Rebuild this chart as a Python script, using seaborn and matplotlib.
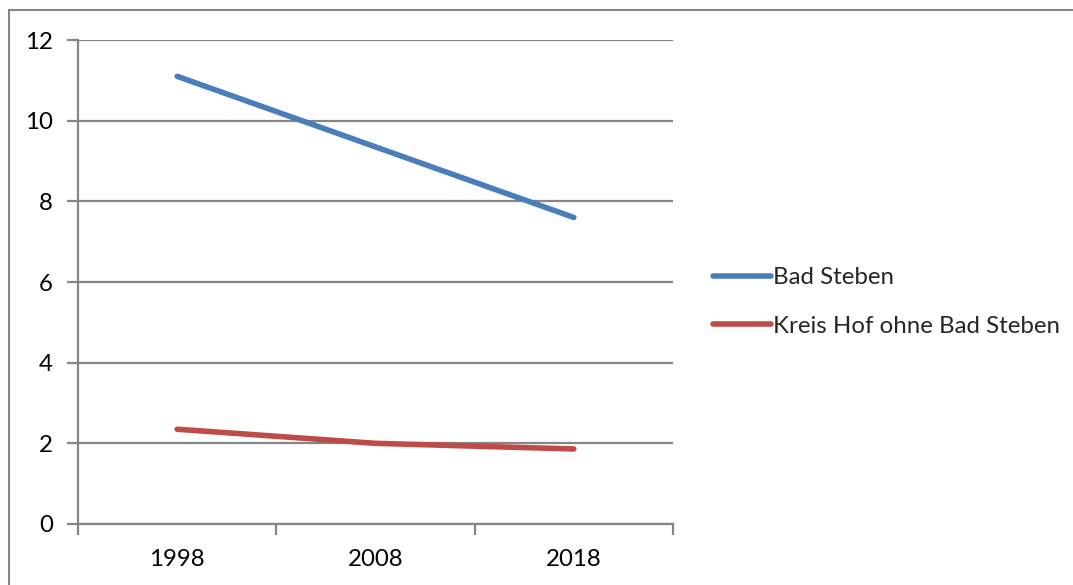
import matplotlib
matplotlib.use("Agg")
import matplotlib.pyplot as plt
import matplotlib.patches as mpatches
import seaborn as sns
import pandas as pd

years = ["1998", "2008", "2018"]
bad_steben = [11.1, 9.35, 7.6]
kreis_hof = [2.35, 2.0, 1.86]
series_names = ["Bad Steben", "Kreis Hof ohne Bad Steben"]
y_ticks = [0, 2, 4, 6, 8, 10, 12]

df = pd.DataFrame({
    "Jahr": years * 2,
    "Wert": bad_steben + kreis_hof,
    "Reihe": [series_names[0]] * len(years) + [series_names[1]] * len(years),
})
df["pos"] = df["Jahr"].map({y: i for i, y in enumerate(years)})

sns.set_theme(style="white")
plt.rcParams["font.family"] = ["Lato", "DejaVu Sans"]

fig = plt.figure(figsize=(10.73, 5.85), dpi=100)
W, H = 1073, 585
ax = fig.add_axes([78 / W, 1 - 524 / H, (673 - 78) / W, (524 - 40) / H])

grid_col = "#868686"
palette = {series_names[0]: "#4a7ebb", series_names[1]: "#be4b48"}
fs = 17.3

sns.lineplot(data=df, x="pos", y="Wert", hue="Reihe", palette=palette,
             linewidth=4, ax=ax, legend=False, solid_capstyle="round")

ax.set_xlim(-0.5, 2.5)
ax.set_ylim(0, 12)
ax.set_yticks(y_ticks)
ax.set_yticklabels([str(v) for v in y_ticks])
ax.set_xticks(range(len(years)))
ax.set_xticklabels(years)
ax.set_xticks([-0.5, 0.5, 1.5, 2.5], minor=True)
ax.set_xlabel("")
ax.set_ylabel("")

ax.yaxis.grid(True, color=grid_col, linewidth=1.6)
ax.set_axisbelow(True)
for s in ["top", "right"]:
    ax.spines[s].set_visible(False)
for s in ["left", "bottom"]:
    ax.spines[s].set_color(grid_col)
    ax.spines[s].set_linewidth(1.6)

ax.tick_params(axis="y", which="major", left=True, length=8, width=1.6,
               color=grid_col, labelsize=fs, pad=10, labelcolor="black")
ax.tick_params(axis="x", which="major", bottom=False, labelsize=fs, pad=12,
               labelcolor="black")
ax.tick_params(axis="x", which="minor", bottom=True, length=8, width=1.6,
               color=grid_col)

handles = [plt.Line2D([], [], color=palette[n], linewidth=4,
                      solid_capstyle="round") for n in series_names]
fig.legend(handles, series_names, loc="center left",
           bbox_to_anchor=(713 / W, 1 - 302 / H), frameon=False,
           fontsize=fs, handlelength=2.4, handletextpad=0.1,
           labelspacing=1.15, borderaxespad=0, borderpad=0)

fig.patches.append(mpatches.Rectangle((9 / W, -0.05), 1.2, 1 - 10 / H + 0.05,
                                      transform=fig.transFigure, fill=False,
                                      edgecolor=grid_col, linewidth=1.5))

fig.savefig("out.png", dpi=100, facecolor="white")
